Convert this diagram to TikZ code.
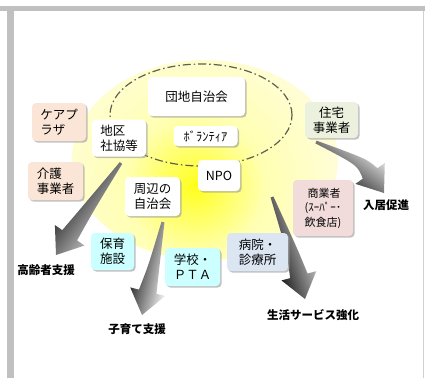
\documentclass[tikz,border=0pt]{standalone}
\usepackage{fontspec}
\setmainfont{Noto Sans CJK JP}
\usetikzlibrary{calc,shadows}
\definecolor{framegray}{HTML}{C0C0C0}
\definecolor{peach}{HTML}{FBE5D6}
\definecolor{mint}{HTML}{EBF1DE}
\definecolor{rose}{HTML}{F2DCDB}
\definecolor{aqua}{HTML}{CCFFFF}
\definecolor{bluegray}{HTML}{DCE6F2}
\definecolor{ringcol}{HTML}{5F5F4F}
\definecolor{arrlight}{HTML}{F2F2F2}
\definecolor{paleyel}{HTML}{FFFDDC}
\pgfdeclareradialshading{glowshade}{\pgfpoint{0bp}{0bp}}{%
  color(0bp)=(yellow!90!white); color(3bp)=(yellow!70!white);
  color(10bp)=(yellow!30!white); color(22bp)=(paleyel); color(50bp)=(paleyel)}
\newcommand\bigarr[5]{%
  \coordinate (#1t) at #2; \coordinate (#1m) at #3; \coordinate (#1p) at #4;
  \coordinate (#1h) at ($(#1p)!24pt!(#1m)$);
  \shade[left color=arrlight, right color=black, shading angle=#5]
    ($(#1t)!1.5pt!90:(#1m)$) .. controls ($(#1m)!5.5pt!90:(#1p)$) .. ($(#1h)!9pt!90:(#1p)$)
    -- ($(#1h)!18pt!90:(#1p)$) -- (#1p) -- ($(#1h)!18pt!-90:(#1p)$)
    -- ($(#1h)!9pt!-90:(#1p)$) .. controls ($(#1m)!5.5pt!-90:(#1p)$) .. ($(#1t)!1.5pt!-90:(#1m)$)
    -- cycle;}
\tikzset{
  box/.style={rounded corners=4pt, fill=white, inner sep=0pt, align=center,
    font=\fontsize{12.5}{15}\selectfont,
    drop shadow={shadow xshift=1.6pt, shadow yshift=-1.6pt, fill=black!40, opacity=0.6}},
  lbl/.style={font=\fontsize{11.5}{14}\selectfont\bfseries, inner sep=0pt},
}
\begin{document}
\begin{tikzpicture}[x=1pt,y=-1pt]
\useasboundingbox (0,0) rectangle (425,378);
% frame
\fill[framegray] (0,6) rectangle (425,11);
\fill[framegray] (7,6) rectangle (14,378);
\draw[black!18, line width=0.8pt] (423.5,11) -- (423.5,378);
% glow
\begin{scope}
  \clip (205,160) ellipse [x radius=133pt, y radius=100pt];
  \shade[shading=glowshade] (195,186) circle [radius=175pt];
\end{scope}
% ring
\draw[ringcol, line width=1.2pt, dash pattern=on 8pt off 3pt on 1.5pt off 3pt]
  (201,115) ellipse [x radius=91pt, y radius=51pt];
% arrows
\bigarr{a}{(121,163)}{(90,206)}{(56,255)}{-125.5}
\bigarr{b}{(163,222)}{(154,266)}{(142,315)}{-103}
\bigarr{c}{(272,197)}{(292,250)}{(305,299)}{-72}
\bigarr{d}{(316,142)}{(362,162)}{(384,193)}{-37}
% nodes
\node[box, minimum width=97pt, minimum height=39pt] (danchi) at (196.5,96.5) {団地自治会};
\node[box, minimum width=64pt, minimum height=20pt] (vol) at (205.5,136) {ﾎﾞﾗﾝﾃｨｱ};
\node[box, minimum width=54pt, minimum height=37pt, align=left] (chiku) at (119,138) {地区\\社協等};
\node[box, minimum width=42pt, minimum height=31pt] (npo) at (219,175.5) {NPO};
\node[box, minimum width=55pt, minimum height=39pt] (shuhen) at (152.5,196.5) {周辺の\\自治会};
\node[box, fill=peach, minimum width=54pt, minimum height=38pt, align=left] (care) at (59,122) {ケアプ\\ラザ};
\node[box, fill=peach, minimum width=55pt, minimum height=38pt, align=left] (kaigo) at (55.5,181) {介護\\事業者};
\node[box, fill=mint, minimum width=53pt, minimum height=36pt] (jutaku) at (331.5,120) {住宅\\事業者};
\node[box, fill=rose, minimum width=60pt, minimum height=56pt, align=left,
  font=\fontsize{11}{14.5}\selectfont] (shogyo) at (323,208) {\hspace*{3pt}商業者\\(ｽｰﾊﾟｰ･\\飲食店)};
\node[box, fill=bluegray, minimum width=61pt, minimum height=38pt, align=left] (byoin) at (257.5,252) {病院・\\診療所};
\node[box, fill=aqua, minimum width=43pt, minimum height=37pt] (hoiku) at (112.5,251.5) {保育\\施設};
\node[box, fill=aqua, minimum width=55pt, minimum height=38pt, align=left] (gakko) at (192.5,267) {学校・\\ＰＴＡ};
% labels
\node[lbl] (l1) at (46,270) {高齢者支援};
\node[lbl] (l2) at (137,329) {子育て支援};
\node[lbl] (l3) at (313,315) {生活サービス強化};
\node[lbl] (l4) at (386,205) {入居促進};
\end{tikzpicture}
\end{document}
